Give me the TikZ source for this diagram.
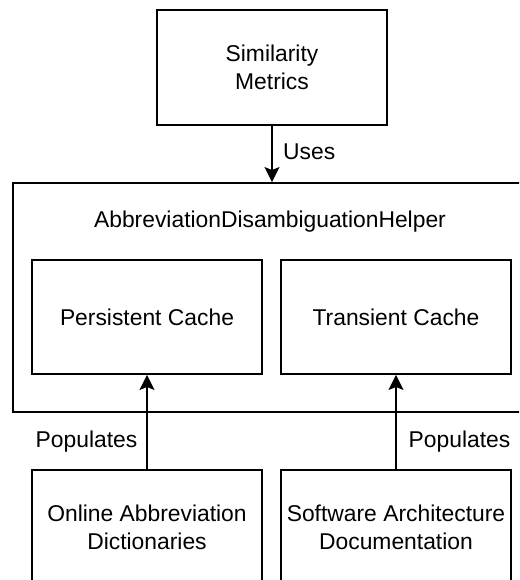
\documentclass[tikz,border=0pt]{standalone}
\usepackage{fontspec}
\setmainfont{Liberation Sans}
\usetikzlibrary{arrows.meta}

\tikzset{
  box/.style={draw=black, line width=1.9pt, fill=white, minimum width=230pt,
    minimum height=114pt, align=center, inner sep=0pt},
  lbl/.style={inner sep=0pt, font=\fontsize{22.85}{27.4}\selectfont},
  arr/.style={line width=1.9pt, -{Stealth[length=15pt,width=15pt,inset=3pt]}},
}

\begin{document}
\begin{tikzpicture}[x=1pt, y=-1pt, font=\fontsize{22.85}{27.4}\selectfont]
  \useasboundingbox (0,0) rectangle (519,580);
  \clip (0,0) rectangle (519,580);

  % component that uses the helper
  \node[box, minimum height=115pt] (sim) at (272,67.5) {Similarity\\Metrics};

  % the helper with its two caches
  \node[box, minimum width=514pt, minimum height=229pt] (helper) at (270,297.5) {};
  \node[lbl] (title) at (270,222) {AbbreviationDisambiguationHelper};
  \node[box] (pers) at (147,317) {Persistent Cache};
  \node[box] (trans) at (396,317) {Transient Cache};

  % data sources
  \node[box, minimum height=115pt] (online) at (147,527.5) {Online Abbreviation\\Dictionaries};
  \node[box, minimum height=115pt] (soft) at (396,527.5) {Software Architecture\\Documentation};

  % connectors
  \draw[arr] (sim.south) -- (sim.south |- helper.north);
  \node[lbl, anchor=west] (uses) at (283,152) {Uses};

  \draw[arr] (online.north) -- (pers.south);
  \node[lbl, anchor=east] (popl) at (137.5,442) {Populates};

  \draw[arr] (soft.north) -- (trans.south);
  \node[lbl, anchor=west] (popr) at (408.5,442) {Populates};
\end{tikzpicture}
\end{document}
